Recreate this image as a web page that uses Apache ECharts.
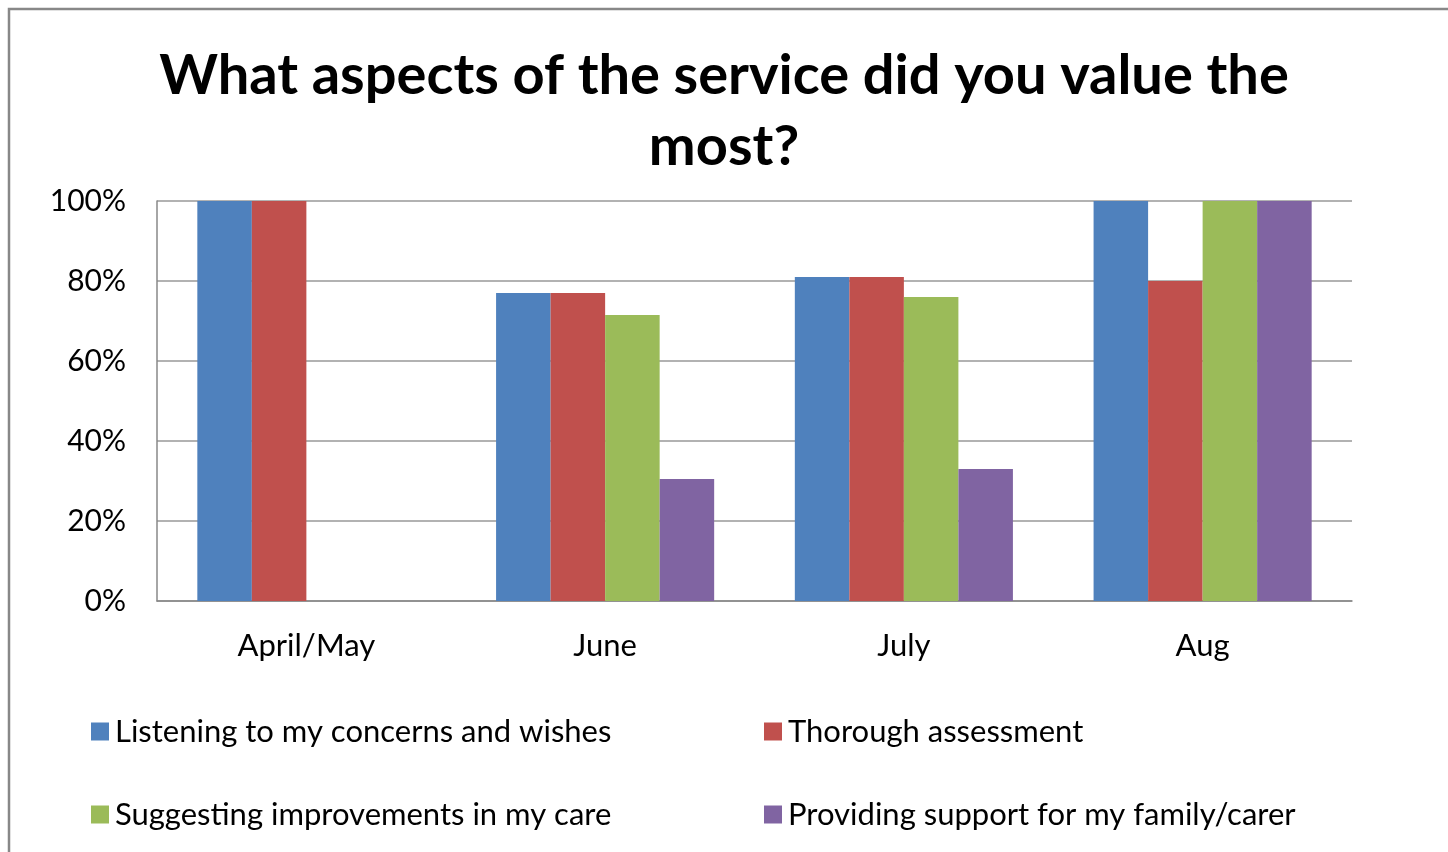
<!DOCTYPE html>
<html><head><meta charset="utf-8">
<script src="https://cdn.jsdelivr.net/npm/echarts@6/dist/echarts.min.js"></script>
<style>html,body{margin:0;padding:0;background:#fff}#c{width:1448px;height:852px}</style>
</head><body><div id="c"></div>
<script>
const categories = ['April/May', 'June', 'July', 'Aug'];
const listening = [100, 77, 81, 100];
const thorough = [100, 77, 81, 80];
const suggesting = [0, 71.5, 76, 100];
const support = [0, 30.5, 33, 100];
const seriesNames = ['Listening to my concerns and wishes', 'Thorough assessment', 'Suggesting improvements in my care', 'Providing support for my family/carer'];
const colors = ['#4F81BD', '#C0504D', '#9BBB59', '#8064A2'];
const values = [listening, thorough, suggesting, support];

const FONT = 'Lato, "Open Sans", sans-serif';
const chart = echarts.init(document.getElementById('c'));
const legendText = { fontFamily: FONT, fontSize: 31, color: '#000', padding: [0, 0, 0, 1] };
chart.setOption({
  animation: false,
  color: colors,
  title: {
    text: 'What aspects of the service did you value the\nmost?',
    left: 'center', top: 35,
    textStyle: { fontFamily: FONT, fontWeight: 'bold', fontSize: 56, color: '#000', lineHeight: 71 }
  },
  graphic: [{
    type: 'rect', shape: { x: 9, y: 9, width: 1480, height: 900 },
    style: { fill: 'none', stroke: '#888', lineWidth: 2.5 }, silent: true
  }],
  legend: [
    { data: [seriesNames[0], seriesNames[2]], orient: 'vertical', left: 86, top: 711, itemGap: 52,
      itemWidth: 18, itemHeight: 18, icon: 'rect', textStyle: legendText },
    { data: [seriesNames[1], seriesNames[3]], orient: 'vertical', left: 759, top: 711, itemGap: 52,
      itemWidth: 18, itemHeight: 18, icon: 'rect', textStyle: legendText }
  ],
  grid: { left: 157, right: 96, top: 201, bottom: 251, containLabel: false },
  xAxis: {
    type: 'category', data: categories,
    axisLine: { lineStyle: { color: '#888', width: 1.5 } },
    axisTick: { show: false },
    axisLabel: { fontFamily: FONT, fontSize: 31, color: '#000', margin: 29 }
  },
  yAxis: {
    type: 'value', min: 0, max: 100, interval: 20,
    axisLine: { show: true, lineStyle: { color: '#888', width: 1.5 } },
    axisTick: { show: false },
    splitLine: { lineStyle: { color: '#999', width: 1.5 } },
    axisLabel: { fontFamily: FONT, fontSize: 30, color: '#000', margin: 31, formatter: '{value}%' }
  },
  series: seriesNames.map((n, i) => ({
    name: n, type: 'bar', data: values[i], barGap: '0%', barCategoryGap: '27%',
    itemStyle: { color: colors[i] }
  }))
});
</script></body></html>
